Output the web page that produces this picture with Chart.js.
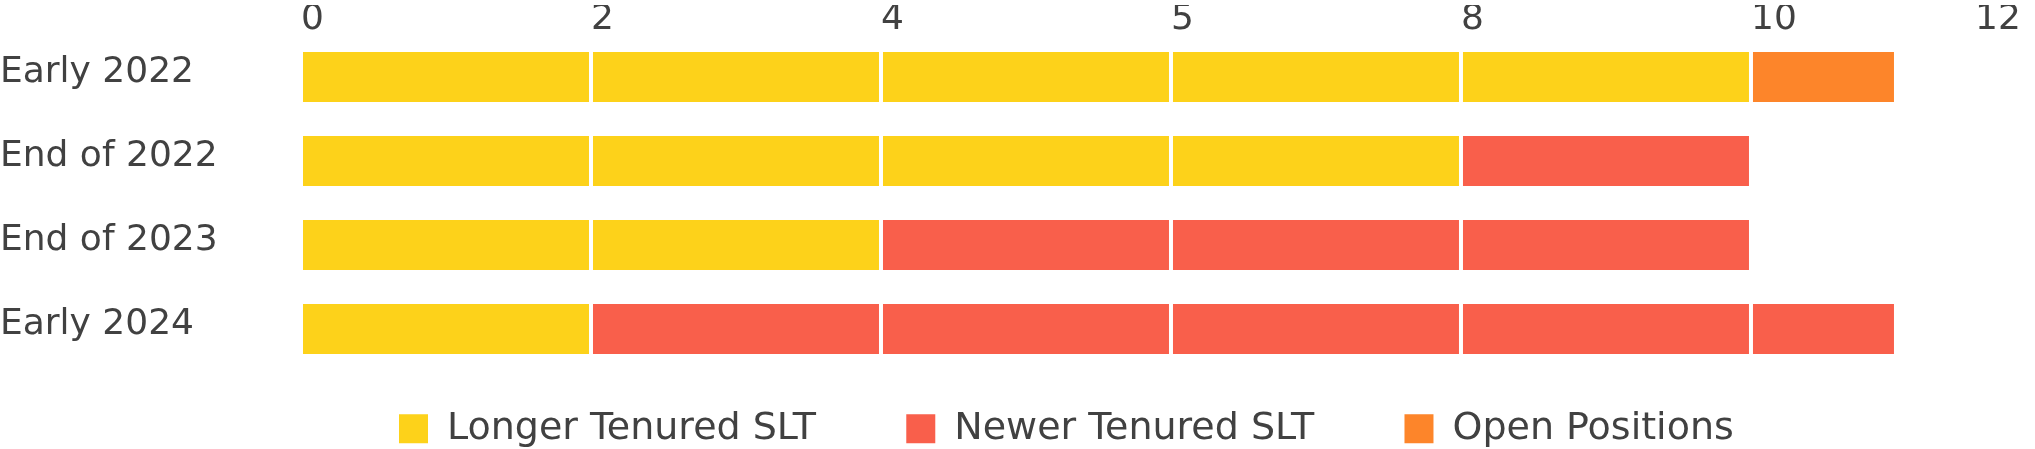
<!DOCTYPE html>
<html>
<head>
<meta charset="utf-8">
<script src="https://cdn.jsdelivr.net/npm/chart.js@4/dist/chart.umd.min.js"></script>
<style>
  html, body { margin: 0; padding: 0; background: #ffffff; }
  #wrap { position: relative; width: 2035px; height: 449px; }
</style>
</head>
<body>
<div id="wrap"><canvas id="c"></canvas></div>
<script>
// ---- data ----
const categories = ['Early 2022', 'End of 2022', 'End of 2023', 'Early 2024'];
const longerTenured = [10, 8, 4, 2];
const newerTenured = [0, 2, 6, 9];
const openPositions = [1, 0, 0, 0];
const seriesNames = ['Longer Tenured SLT', 'Newer Tenured SLT', 'Open Positions'];
const seriesColors = ['#FDD21A', '#F95F4B', '#FD852A'];
const xTickLabels = ['0', '2', '4', '5', '8', '10', '12'];
const segmentSize = 2;

// ---- style ----
const textColor = '#414141';
const fontFamily = "'DejaVu Sans', sans-serif";

// split each series into blocks of segmentSize (each block drawn with white separators)
const series = [longerTenured, newerTenured, openPositions];
const datasets = [];
const firstIndex = [];
series.forEach((vals, s) => {
  const n = Math.ceil(Math.max(...vals) / segmentSize);
  firstIndex.push(datasets.length);
  for (let k = 0; k < n; k++) {
    datasets.push({
      label: seriesNames[s],
      data: vals.map(v => {
        const r = Math.min(segmentSize, v - k * segmentSize);
        return r > 0 ? r : null;
      }),
      backgroundColor: seriesColors[s],
      borderColor: '#ffffff',
      borderWidth: 2,
      borderSkipped: false,
      barPercentage: 0.642,
      categoryPercentage: 1.0
    });
  }
});

const legendPlacement = {
  id: 'legendPlacement',
  afterLayout(chart) {
    const lg = chart.legend;
    if (!lg) return;
    lg.top = 319.5;
    lg.bottom = chart.height;
    lg.left = 308.7;
    lg.right = chart.width;
  }
};

new Chart(document.getElementById('c'), {
  type: 'bar',
  data: { labels: categories, datasets: datasets },
  plugins: [legendPlacement],
  options: {
    indexAxis: 'y',
    responsive: true,
    maintainAspectRatio: false,
    animation: false,
    events: [],
    devicePixelRatio: 1,
    layout: { padding: { top: 5, right: 60, bottom: 0, left: 0 } },
    scales: {
      x: {
        type: 'linear',
        position: 'top',
        stacked: true,
        min: 0,
        max: 11.545,
        grid: { display: false, drawTicks: false },
        border: { display: false },
        afterBuildTicks: (s) => {
          s.ticks = xTickLabels.map((_, i) => ({ value: Math.min(i * segmentSize, s.max) }));
        },
        ticks: {
          align: 'start',
          padding: -3,
          autoSkip: false,
          maxRotation: 0,
          color: textColor,
          font: { family: fontFamily, size: 36, lineHeight: 1 },
          callback: (v, i) => xTickLabels[i]
        }
      },
      y: {
        type: 'category',
        stacked: true,
        grid: { display: false, drawTicks: false },
        border: { display: false },
        afterFit: (s) => { s.width = 301; },
        ticks: {
          crossAlign: 'far',
          padding: 0,
          labelOffset: -4,
          color: textColor,
          font: { family: fontFamily, size: 36 }
        }
      }
    },
    plugins: {
      tooltip: { enabled: false },
      title: { display: false },
      legend: {
        display: true,
        position: 'bottom',
        align: 'start',
        maxHeight: 78,
        labels: {
          boxWidth: 29,
          boxHeight: 29,
          padding: 90.3,
          color: textColor,
          font: { family: fontFamily, size: 38 },
          generateLabels: () => seriesNames.map((name, i) => ({
            text: name,
            fillStyle: seriesColors[i],
            strokeStyle: seriesColors[i],
            lineWidth: 0,
            hidden: false,
            fontColor: textColor,
            datasetIndex: firstIndex[i]
          }))
        }
      }
    }
  }
});
</script>
</body>
</html>
